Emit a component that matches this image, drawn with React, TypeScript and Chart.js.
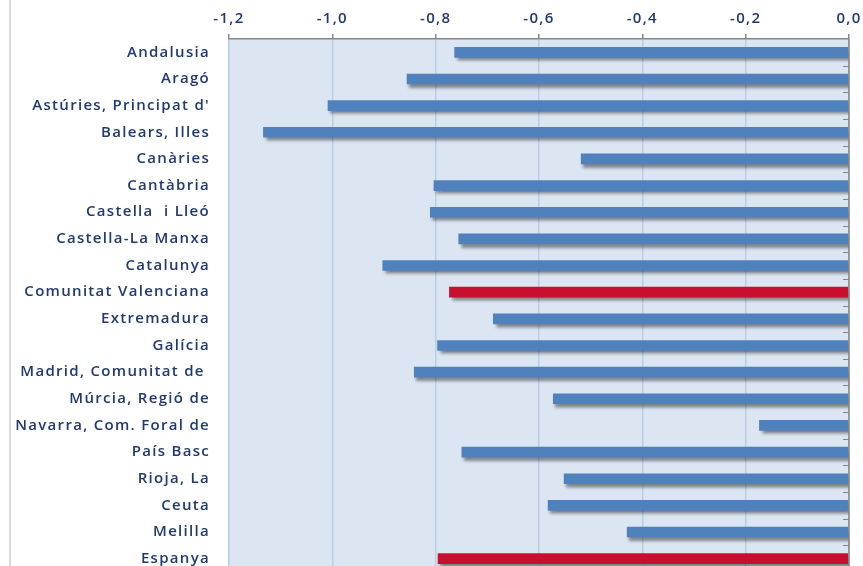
import { useEffect, useRef } from "react";
import { Chart, registerables } from "chart.js";

Chart.register(...registerables);

const categories = [
  "Andalusia",
  "Aragó",
  "Astúries, Principat d'",
  "Balears, Illes",
  "Canàries",
  "Cantàbria",
  "Castella  i Lleó",
  "Castella-La Manxa",
  "Catalunya",
  "Comunitat Valenciana",
  "Extremadura",
  "Galícia",
  "Madrid, Comunitat de ",
  "Múrcia, Regió de",
  "Navarra, Com. Foral de",
  "País Basc",
  "Rioja, La",
  "Ceuta",
  "Melilla",
  "Espanya",
];

const values = [
  -0.764, -0.856, -1.009, -1.134, -0.519, -0.804, -0.811, -0.756, -0.903, -0.774,
  -0.689, -0.797, -0.842, -0.573, -0.174, -0.75, -0.552, -0.583, -0.43, -0.796,
];

const highlighted = ["Comunitat Valenciana", "Espanya"];

const xMin = -1.2;
const xMax = 0;
const xStep = 0.2;

const BLUE = "#4f81bd";
const RED = "#c80f2d";
const NAVY = "#1f3a70";
const FONT = { family: "'Open Sans', sans-serif", size: 15, weight: 600 };

const decorPlugin = {
  id: "decor",
  beforeDraw(chart: any) {
    const { ctx, chartArea } = chart;
    ctx.letterSpacing = "1.3px";
    ctx.save();
    ctx.fillStyle = "#dce6f2";
    ctx.fillRect(chartArea.left, chartArea.top, chartArea.right - chartArea.left, chartArea.bottom - chartArea.top);
    ctx.restore();
  },
  beforeDatasetsDraw(chart: any) {
    const { ctx } = chart;
    ctx.save();
    ctx.shadowColor = "rgba(0,0,0,0.42)";
    ctx.shadowOffsetX = 2.5;
    ctx.shadowOffsetY = 3.5;
    ctx.shadowBlur = 3;
  },
  afterDatasetsDraw(chart: any) {
    const { ctx, chartArea } = chart;
    ctx.restore();
    const y = chart.scales.y;
    const half = (y.getPixelForValue(1) - y.getPixelForValue(0)) / 2;
    ctx.save();
    ctx.strokeStyle = "#868686";
    ctx.lineWidth = 1.5;
    ctx.beginPath();
    ctx.moveTo(chartArea.right, chartArea.top);
    ctx.lineTo(chartArea.right, chartArea.bottom);
    ctx.stroke();
    ctx.lineWidth = 1;
    ctx.beginPath();
    for (let i = 1; i <= categories.length; i++) {
      const yy = Math.round(y.getPixelForValue(i) - half) + 0.5;
      ctx.moveTo(chartArea.right - 6, yy);
      ctx.lineTo(chartArea.right, yy);
    }
    ctx.stroke();
    ctx.restore();
  },
};

export default function App() {
  const ref = useRef<HTMLCanvasElement>(null);

  useEffect(() => {
    if (!ref.current) return;
    const chart = new Chart(ref.current, {
      type: "bar",
      data: {
        labels: categories,
        datasets: [
          {
            data: values,
            backgroundColor: categories.map((c) => (highlighted.includes(c) ? RED : BLUE)),
            borderWidth: 0,
            barPercentage: 0.4,
            categoryPercentage: 1,
          },
        ],
      },
      options: {
        indexAxis: "y",
        responsive: false,
        animation: false,
        layout: { padding: { left: 0, right: 14, top: 0, bottom: 0 } },
        plugins: { legend: { display: false }, tooltip: { enabled: false } },
        scales: {
          x: {
            position: "top",
            min: xMin,
            max: xMax,
            ticks: {
              stepSize: xStep,
              color: NAVY,
              font: FONT,
              padding: 6,
              maxRotation: 0,
              callback: (v: any) => {
                const n = Math.abs(Number(v)) < 1e-9 ? 0 : Number(v);
                return n.toFixed(1).replace(".", ",");
              },
            },
            grid: { color: "#b9cde5", lineWidth: 1.5, tickColor: "#868686", tickLength: 5 },
            border: { color: "#868686", width: 1.5 },
            afterFit: (s: any) => {
              s.height = 39;
              s.paddingLeft = 0;
              s.paddingRight = 0;
            },
          },
          y: {
            ticks: { color: NAVY, font: FONT, padding: 19, autoSkip: false },
            grid: { display: false, drawTicks: false },
            border: { display: false },
            afterFit: (s: any) => {
              s.width = 229;
              s.paddingTop = 0;
              s.paddingBottom = 0;
            },
          },
        },
      },
      plugins: [decorPlugin],
    } as any);
    return () => chart.destroy();
  }, []);

  return (
    <div
      style={{
        position: "fixed",
        left: 0,
        top: 0,
        width: 863,
        height: 566,
        overflow: "hidden",
        background: "#fff",
      }}
    >
      <div style={{ position: "absolute", left: 9, top: 0, width: 2, height: "100%", background: "#d9d9d9" }} />
      <canvas ref={ref} width={863} height={572} style={{ display: "block" }} />
    </div>
  );
}
